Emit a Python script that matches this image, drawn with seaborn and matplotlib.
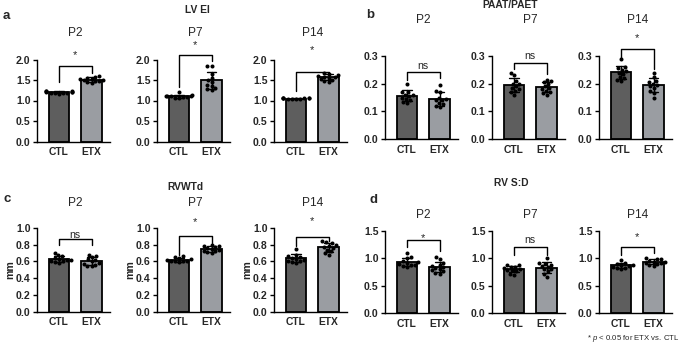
import numpy as np
import pandas as pd
import matplotlib
matplotlib.use("Agg")
import matplotlib.pyplot as plt
import matplotlib.transforms as mtransforms
import seaborn as sns

# ---------------- data ----------------
groups = ["CTL", "ETX"]
days = ["P2", "P7", "P14"]

# a: LV EI
lvei_p2_ctl = [1.22, 1.18, 1.20, 1.24, 1.19, 1.21, 1.17, 1.20, 1.23, 1.18, 1.19]
lvei_p2_etx = [1.58, 1.60, 1.55, 1.52, 1.50, 1.48, 1.45, 1.42, 1.47, 1.53, 1.49]
lvei_p7_ctl = [1.20, 1.12, 1.10, 1.08, 1.11, 1.09, 1.07, 1.13, 1.05, 1.10]
lvei_p7_etx = [1.85, 1.85, 1.65, 1.55, 1.50, 1.45, 1.38, 1.30, 1.28, 1.35, 1.25]
lvei_p14_ctl = [1.07, 1.05, 1.04, 1.06, 1.03, 1.05, 1.04, 1.06, 1.05, 1.03]
lvei_p14_etx = [1.68, 1.65, 1.62, 1.60, 1.58, 1.55, 1.52, 1.50, 1.47, 1.45, 1.57]

# b: PAAT/PAET
paat_p2_ctl = [0.200, 0.170, 0.160, 0.170, 0.155, 0.150, 0.140, 0.135, 0.160, 0.145, 0.130]
paat_p2_etx = [0.195, 0.175, 0.170, 0.150, 0.145, 0.140, 0.130, 0.120, 0.115, 0.125, 0.140]
paat_p7_ctl = [0.240, 0.230, 0.210, 0.200, 0.190, 0.180, 0.170, 0.160, 0.200, 0.185, 0.175]
paat_p7_etx = [0.215, 0.210, 0.205, 0.200, 0.190, 0.185, 0.180, 0.170, 0.160, 0.165, 0.175]
paat_p14_ctl = [0.290, 0.260, 0.255, 0.250, 0.245, 0.240, 0.235, 0.225, 0.215, 0.210, 0.220]
paat_p14_etx = [0.240, 0.225, 0.210, 0.205, 0.200, 0.195, 0.190, 0.185, 0.175, 0.165, 0.150]

# c: RVWTd (mm)
rvwtd_p2_ctl = [0.70, 0.68, 0.66, 0.64, 0.63, 0.62, 0.61, 0.60, 0.58, 0.59, 0.62]
rvwtd_p2_etx = [0.68, 0.67, 0.65, 0.63, 0.62, 0.60, 0.58, 0.55, 0.54, 0.57, 0.56]
rvwtd_p7_ctl = [0.66, 0.65, 0.64, 0.63, 0.62, 0.61, 0.60, 0.59, 0.61, 0.60]
rvwtd_p7_etx = [0.80, 0.79, 0.78, 0.77, 0.76, 0.75, 0.74, 0.72, 0.71, 0.73, 0.70]
rvwtd_p14_ctl = [0.75, 0.68, 0.66, 0.65, 0.64, 0.62, 0.61, 0.60, 0.58, 0.59, 0.63]
rvwtd_p14_etx = [0.84, 0.83, 0.82, 0.80, 0.79, 0.77, 0.76, 0.72, 0.70, 0.68, 0.74]

# d: RV S:D
rvsd_p2_ctl = [1.10, 1.02, 1.00, 0.95, 0.93, 0.92, 0.90, 0.88, 0.86, 0.84, 0.87]
rvsd_p2_etx = [1.02, 0.98, 0.92, 0.88, 0.86, 0.84, 0.82, 0.80, 0.76, 0.74, 0.78, 0.72]
rvsd_p7_ctl = [0.88, 0.87, 0.85, 0.84, 0.82, 0.80, 0.78, 0.76, 0.72, 0.70, 0.78]
rvsd_p7_etx = [1.00, 0.92, 0.90, 0.88, 0.86, 0.84, 0.80, 0.76, 0.72, 0.66, 0.80]
rvsd_p14_ctl = [0.97, 0.92, 0.90, 0.88, 0.87, 0.86, 0.85, 0.83, 0.82, 0.80]
rvsd_p14_etx = [1.00, 0.99, 0.98, 0.96, 0.94, 0.93, 0.91, 0.90, 0.88, 0.86, 0.92]

titles = ["LV EI", "PAAT/PAET", "RVWTd", "RV S:D"]
letters = ["a", "b", "c", "d"]
sig_a = ["*", "*", "*"]
sig_b = ["ns", "ns", "*"]
sig_c = ["ns", "*", "*"]
sig_d = ["*", "ns", "*"]
footnote = r"* $p$ < 0.05 for ETX vs. CTL"

# ---------------- style ----------------
sns.set_theme(style="ticks")
plt.rcParams["font.family"] = ["Liberation Sans", "DejaVu Sans"]
plt.rcParams["mathtext.fontset"] = "custom"
plt.rcParams["mathtext.it"] = "Liberation Sans:italic"
plt.rcParams["mathtext.rm"] = "Liberation Sans"

CTL_COLOR = "#5e5e5e"
ETX_COLOR = "#9a9da2"

W, H = 681, 346
fig = plt.figure(figsize=(W / 100, H / 100), dpi=100)
fig.patch.set_facecolor("white")

SPACING = 32.5
XL, XR = -0.68, 1.58
col_ctl_px = [[59, 179, 296], [407, 514, 621]]

panels = [
    dict(data=[(lvei_p2_ctl, lvei_p2_etx), (lvei_p7_ctl, lvei_p7_etx), (lvei_p14_ctl, lvei_p14_etx)],
         ymax=2.0, step=0.5, sig=sig_a, col=0, top=59.5, bottom=141.5, sub_y=33,
         title=(197, 10), letter=(3, 16), ylabel=None,
         ann=[(0.915, 0.72, 0.83, 1.06), (1.05, 0.67, 0.98, 1.18), (0.85, 0.62, 0.83, 1.11)]),
    dict(data=[(paat_p2_ctl, paat_p2_etx), (paat_p7_ctl, paat_p7_etx), (paat_p14_ctl, paat_p14_etx)],
         ymax=0.3, step=0.1, sig=sig_b, col=1, top=56, bottom=139, sub_y=20,
         title=(510, 5.5), letter=(366, 15), ylabel=None,
         ann=[(0.81, 0.71, 0.74, 0.885), (0.91, 0.84, 0.78, 0.995), (1.08, 0.96, 0.84, 1.21)]),
    dict(data=[(rvwtd_p2_ctl, rvwtd_p2_etx), (rvwtd_p7_ctl, rvwtd_p7_etx), (rvwtd_p14_ctl, rvwtd_p14_etx)],
         ymax=1.0, step=0.2, sig=sig_c, col=0, top=228, bottom=311.5, sub_y=203,
         title=(185, 187), letter=(3, 199), ylabel="mm",
         ann=[(0.87, 0.795, 0.795, 0.915), (0.905, 0.68, 0.825, 1.07), (0.896, 0.78, 0.845, 1.08)]),
    dict(data=[(rvsd_p2_ctl, rvsd_p2_etx), (rvsd_p7_ctl, rvsd_p7_etx), (rvsd_p14_ctl, rvsd_p14_etx)],
         ymax=1.5, step=0.5, sig=sig_d, col=1, top=231, bottom=313, sub_y=215,
         title=(511, 183), letter=(370, 200), ylabel=None,
         ann=[(0.89, 0.81, 0.756, 0.91), (0.81, 0.71, 0.71, 0.895), (0.80, 0.71, 0.73, 0.93)]),
]

for pi, p in enumerate(panels):
    fig.text(p["title"][0] / W, 1 - p["title"][1] / H, titles[pi], ha="center", va="center",
             fontsize=7.4, fontweight="bold")
    fig.text(p["letter"][0] / W, 1 - p["letter"][1] / H, letters[pi], ha="left", va="center",
             fontsize=9.5, fontweight="bold")
    for k in range(3):
        ctl, etx = p["data"][k]
        df = pd.DataFrame({"group": ["CTL"] * len(ctl) + ["ETX"] * len(etx),
                           "value": list(ctl) + list(etx)})
        cx = col_ctl_px[p["col"]][k]
        left = cx + XL * SPACING
        width = (XR - XL) * SPACING
        ax = fig.add_axes([left / W, 1 - p["bottom"] / H, width / W, (p["bottom"] - p["top"]) / H])
        sns.barplot(data=df, x="group", y="value", hue="group", order=groups, hue_order=groups,
                    palette=[CTL_COLOR, ETX_COLOR], saturation=1, errorbar="sd", capsize=0.3,
                    err_kws={"color": "black", "linewidth": 1.0}, width=0.64,
                    edgecolor="black", linewidth=1.3, legend=False, ax=ax)
        sns.swarmplot(data=df, x="group", y="value", order=groups, color="black", size=2.9,
                      ax=ax, warn_thresh=1)
        ax.set_xlim(XL, XR)
        ax.set_ylim(0, p["ymax"])
        ticks = np.round(np.arange(0, p["ymax"] + 1e-9, p["step"]), 2)
        ax.set_yticks(ticks)
        ax.set_yticklabels([f"{t:.1f}" for t in ticks], fontweight="bold", fontsize=7.6)
        ax.set_xticks([0, 1])
        ax.set_xticklabels(groups, fontweight="bold", fontsize=7.4)
        ax.tick_params(axis="x", length=0, pad=4)
        ax.tick_params(axis="y", length=3, width=1, pad=1.5, color="black")
        ax.set_xlabel("")
        if p["ylabel"]:
            ax.set_ylabel(p["ylabel"], fontweight="bold", fontsize=7.6)
            ax.yaxis.set_label_coords(-0.3, 0.5)
        else:
            ax.set_ylabel("")
        sns.despine(ax=ax)
        for s in ["left", "bottom"]:
            ax.spines[s].set_linewidth(1.0)
            ax.spines[s].set_color("black")
        ax.set_facecolor("none")

        trans = mtransforms.blended_transform_factory(ax.transData, ax.transAxes)
        top, lb, rb, ty = p["ann"][k]
        ax.plot([0, 0, 1, 1], [lb, top, top, rb], color="black", lw=1.0,
                transform=trans, clip_on=False)
        ax.text(0.5, ty, p["sig"][k], transform=trans, ha="center", va="center",
                fontsize=7.6 if p["sig"][k] == "ns" else 8)
        ax.annotate(days[k], xy=(0.5, 1 - p["sub_y"] / H), xycoords=("data", "figure fraction"),
                    ha="center", va="center", fontsize=8.6, annotation_clip=False)

fig.text(679 / W, 1 - 338 / H, footnote, ha="right", va="center", fontsize=5.6)

fig.savefig("out.png", dpi=100)
